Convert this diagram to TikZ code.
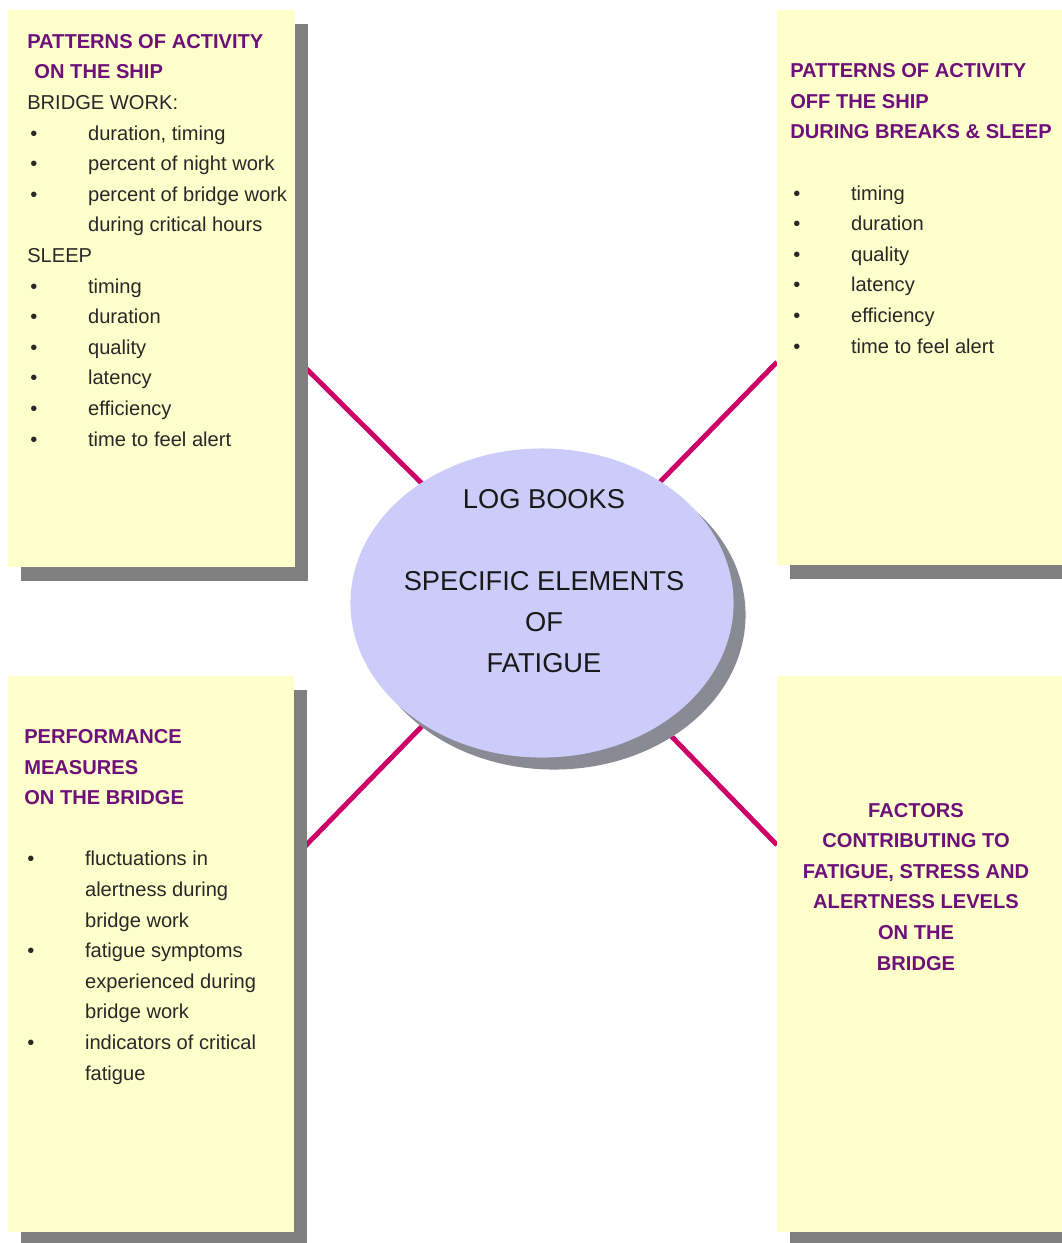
\documentclass[tikz,border=0pt]{standalone}
\usepackage{fontspec}
\setmainfont{Liberation Sans}
\usepackage{tikz}
\usetikzlibrary{shapes.geometric,shadows,backgrounds}

\definecolor{padyellow}{RGB}{255,255,204}
\definecolor{shadowgray}{RGB}{128,128,128}
\definecolor{ovalblue}{RGB}{204,204,250}
\definecolor{ovalgray}{RGB}{138,138,148}
\definecolor{headpurple}{RGB}{110,16,122}
\definecolor{linkred}{RGB}{204,0,102}
\definecolor{bodygray}{RGB}{40,40,40}

\newcommand{\bodysize}{\fontsize{14.3pt}{21.75pt}\selectfont}
\newcommand{\hd}[1]{{\bfseries\color{headpurple}#1}}
\newcommand{\itm}[1]{\makebox[1.52cm][l]{\hspace{0.08cm}\textbullet}#1}

\tikzset{
  panel/.style={rectangle, fill=padyellow, inner sep=0pt, anchor=north west,
    drop shadow={shadow xshift=0.325cm, shadow yshift=-0.35cm, fill=shadowgray, opacity=1}},
  txt/.style={align=left, anchor=base west, inner sep=0pt, text=bodygray, font=\bodysize},
  link/.style={line width=3.5pt, draw=linkred}
}

\begin{document}
\begin{tikzpicture}[x=0.025cm, y=-0.025cm]
\useasboundingbox (0,0) rectangle (1061,1243);

% the four panels
\node[panel, minimum width=7.175cm, minimum height=13.925cm] (ship) at (8,10) {};
\node[panel, minimum width=7.45cm, minimum height=13.875cm] (off) at (777,10) {};
\node[panel, minimum width=7.15cm, minimum height=13.9cm] (perf) at (8,676) {};
\node[panel, minimum width=7.45cm, minimum height=13.9cm] (fact) at (777,676) {};

% centre oval
\node[ellipse, fill=ovalblue, minimum width=9.575cm, minimum height=7.725cm,
  drop shadow={shadow xshift=0.3cm, shadow yshift=-0.3cm, fill=ovalgray, opacity=1}]
  (logb) at (542,603) {};

% base of a multi-line node = last line
\node[align=center, anchor=base, inner sep=0pt, text=black!90,
  font=\fontsize{19.4pt}{29pt}\selectfont] (logtxt) at (544,672)
  {LOG BOOKS\\[29pt] SPECIFIC ELEMENTS\\ OF\\ FATIGUE};

\begin{scope}[on background layer]
\draw[link] (logb.center) -- (ship.east |- 0,358);
\draw[link] (logb.center) -- (off.west |- 0,362);
\draw[link] (logb.center) -- (perf.east |- 0,857);
\draw[link] (logb.center) -- (fact.west |- 0,845);
\end{scope}

% panel texts
\node[txt] (shiptxt) at (27,446) {\hd{PATTERNS OF ACTIVITY}\\
  \hspace*{0.18cm}\hd{ON THE SHIP}\\
  BRIDGE WORK:\\
  \itm{duration, timing}\\
  \itm{percent of night work}\\
  \itm{percent of bridge work}\\
  \hspace*{1.52cm}during critical hours\\
  SLEEP\\
  \itm{timing}\\
  \itm{duration}\\
  \itm{quality}\\
  \itm{latency}\\
  \itm{efficiency}\\
  \itm{time to feel alert}};

\node[txt] (offtxt) at (790,353) {\hd{PATTERNS OF ACTIVITY}\\
  \hd{OFF THE SHIP}\\
  \hd{DURING BREAKS \& SLEEP}\\[21.75pt]
  \itm{timing}\\
  \itm{duration}\\
  \itm{quality}\\
  \itm{latency}\\
  \itm{efficiency}\\
  \itm{time to feel alert}};

\node[txt] (perftxt) at (24,1080) {\hd{PERFORMANCE}\\
  \hd{MEASURES}\\
  \hd{ON THE BRIDGE}\\[21.75pt]
  \itm{fluctuations in}\\
  \hspace*{1.52cm}alertness during\\
  \hspace*{1.52cm}bridge work\\
  \itm{fatigue symptoms}\\
  \hspace*{1.52cm}experienced during\\
  \hspace*{1.52cm}bridge work\\
  \itm{indicators of critical}\\
  \hspace*{1.52cm}fatigue};

\node[txt, align=center, anchor=base] (facttxt) at (916,970) {\hd{FACTORS}\\
  \hd{CONTRIBUTING TO}\\
  \hd{FATIGUE, STRESS AND}\\
  \hd{ALERTNESS LEVELS}\\
  \hd{ON THE}\\
  \hd{BRIDGE}};

\end{tikzpicture}
\end{document}
